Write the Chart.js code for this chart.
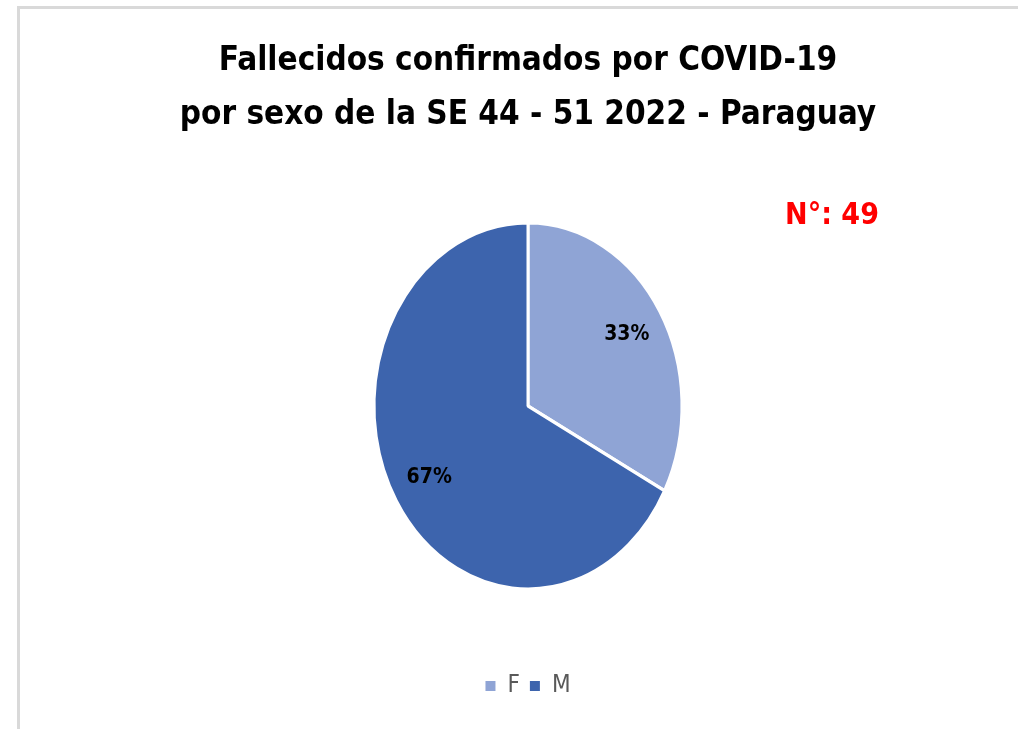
<!DOCTYPE html>
<html>
<head>
<meta charset="utf-8">
<script src="https://cdn.jsdelivr.net/npm/chart.js@4"></script>
<style>
  html, body { margin: 0; padding: 0; background: #fff; overflow: hidden; }
  #frame {
    position: absolute; left: 17px; top: 6px; width: 1010px; height: 730px;
    border-top: 3px solid #d9d9d9; border-left: 3px solid #d9d9d9;
  }
  #chart-box { position: absolute; left: 20px; top: 9px; width: 998px; height: 720px; }
</style>
</head>
<body>
<div id="frame"></div>
<div id="chart-box"><canvas id="pie-sexo" width="998" height="720"></canvas></div>
<script>
const labels = ['F', 'M']
const deaths = [16, 33]
const sliceColors = ['#8FA4D5', '#3D64AD']
const titleLines = ['Fallecidos confirmados por COVID-19', 'por sexo de la SE 44 - 51 2022 - Paraguay']

const narrow = "'Liberation Sans Narrow', 'DejaVu Sans Condensed', 'Roboto Condensed', sans-serif"
const yStretch = 182 / 153   // the original pie is drawn as an upright ellipse

const total = deaths.reduce((a, b) => a + b, 0)

// stretch the pie vertically and put percentages inside slices
const ellipsePie = {
    id: 'ellipsePie',
    beforeDatasetsDraw(chart) {
        const arc = chart.getDatasetMeta(0).data[0]
        const ctx = chart.ctx
        ctx.save()
        ctx.translate(arc.x, arc.y)
        ctx.scale(1, yStretch)
        ctx.translate(-arc.x, -arc.y)
    },
    afterDatasetsDraw(chart) {
        const ctx = chart.ctx
        ctx.restore()
        const meta = chart.getDatasetMeta(0)
        ctx.save()
        ctx.font = 'bold 21px ' + narrow
        ctx.fillStyle = '#000'
        ctx.textAlign = 'center'
        ctx.textBaseline = 'middle'
        meta.data.forEach((arc, i) => {
            const mid = (arc.startAngle + arc.endAngle) / 2
            const r = arc.outerRadius * 0.75
            const x = arc.x + Math.cos(mid) * r
            const y = arc.y + Math.sin(mid) * r * yStretch
            ctx.fillText(Math.round(deaths[i] / total * 100) + '%', x, y)
        })
        ctx.restore()
    },
    afterDraw(chart) {
        const ctx = chart.ctx
        ctx.save()
        ctx.font = 'bold 30px ' + narrow
        ctx.fillStyle = '#FF0000'
        ctx.textAlign = 'center'
        ctx.textBaseline = 'middle'
        ctx.fillText('N°: ' + total, 812, 207)
        ctx.restore()
    }
}

const ctx = document.getElementById('pie-sexo').getContext('2d')

new Chart(ctx, {
    type: 'pie',
    data: {
        labels: labels,
        datasets: [{
            data: deaths,
            backgroundColor: sliceColors,
            borderColor: '#ffffff',
            borderWidth: 3,
            radius: 154
        }]
    },
    options: {
        responsive: false,
        animation: false,
        layout: { padding: { left: 18, right: 0, top: 0, bottom: 21 } },
        plugins: {
            title: {
                display: true,
                text: titleLines,
                color: '#000',
                font: { family: narrow, size: 33, weight: 'bold', lineHeight: 54 / 33 },
                padding: { top: 25, bottom: 6 }
            },
            legend: {
                display: true,
                position: 'bottom',
                labels: {
                    color: '#595959',
                    boxWidth: 10,
                    boxHeight: 10,
                    padding: 10,
                    font: { family: narrow, size: 24 },
                    generateLabels(chart) {
                        return labels.map((l, i) => ({
                            text: l,
                            fillStyle: sliceColors[i],
                            strokeStyle: sliceColors[i],
                            lineWidth: 0,
                            fontColor: '#595959',
                            index: i,
                            hidden: false
                        }))
                    }
                }
            },
            tooltip: { enabled: false }
        }
    },
    plugins: [ellipsePie]
})
</script>
</body>
</html>
